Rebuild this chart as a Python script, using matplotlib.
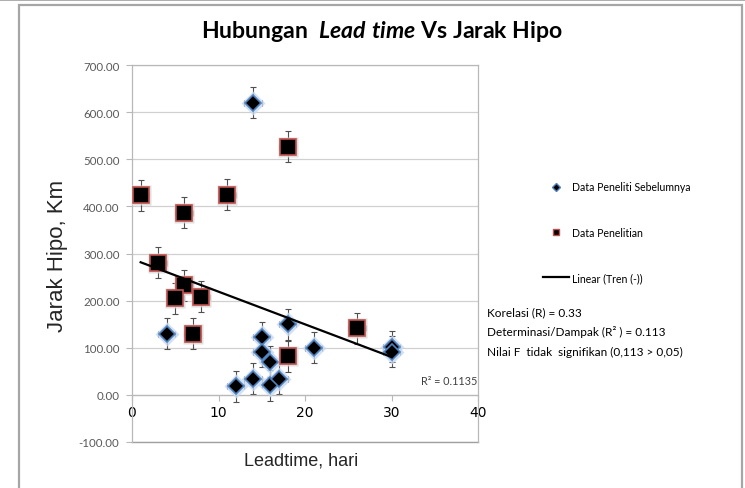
import numpy as np
import matplotlib
matplotlib.use("Agg")
import matplotlib.pyplot as plt
from matplotlib.lines import Line2D
from matplotlib.patches import Rectangle

# ---- data ----
prev_x = [14, 4, 15, 15, 16, 12, 14, 16, 17, 18, 21, 30, 30]
prev_y = [620, 130, 122, 92, 70, 18, 34, 20, 34, 150, 100, 102, 92]
res_x = [1, 3, 6, 11, 18, 6, 5, 8, 7, 18, 26]
res_y = [424, 280, 387, 425, 527, 233, 205, 208, 130, 82, 141]
x_err = 1
y_err = 33
yticks = [-100, 0, 100, 200, 300, 400, 500, 600, 700]
xticks = [0, 10, 20, 30, 40]
stats_lines = ["Korelasi (R) = 0.33",
               "Determinasi/Dampak (R\u00b2 ) = 0.113",
               "Nilai F  tidak  signifikan (0,113 > 0,05)"]
r2_label = "R\u00b2 = 0.1135"

CAL = ["Lato", "DejaVu Sans"]
ARI = ["Liberation Sans", "DejaVu Sans"]

plt.rcParams["mathtext.fontset"] = "custom"
plt.rcParams["mathtext.it"] = "Lato:italic:bold"
plt.rcParams["mathtext.rm"] = "Lato:bold"

W, H = 745, 489
fig = plt.figure(figsize=(W / 100, H / 100), dpi=100)

# outer chart frame
fig.add_artist(Rectangle((19 / W, -0.05), (742 - 19) / W, 1 - 6 / H + 0.05,
                         transform=fig.transFigure, fill=False,
                         edgecolor="#a6a6a6", linewidth=1.6))
fig.add_artist(Line2D([0, 1], [1 - 0.8 / H, 1 - 0.8 / H], transform=fig.transFigure,
                      color="#a0a0a0", linewidth=1.2))

L, R, T, B = 132, 478, 66, 443
ax = fig.add_axes([L / W, 1 - B / H, (R - L) / W, (B - T) / H])
ax.set_xlim(0, 40)
ax.set_ylim(-100, 700)

grid_c = "#d0d0d0"
ax.set_yticks(yticks)
ax.set_yticklabels([f"{v:.2f}" for v in yticks], fontfamily=CAL, fontsize=8.3, color="#595959")
ax.set_xticks(xticks)
ax.set_xticklabels([str(v) for v in xticks], fontfamily=CAL, fontsize=9, color="#595959")
ax.yaxis.grid(True, color=grid_c, linewidth=0.9)
ax.set_axisbelow(True)
ax.spines["bottom"].set_position(("data", 0))
for s in ["left", "bottom", "top", "right"]:
    ax.spines[s].set_color("#b8b8b8")
    ax.spines[s].set_linewidth(0.9)
ax.axhline(-100, color="#a0a0a0", linewidth=1.0, clip_on=False)
ax.tick_params(axis="y", direction="out", length=4, color="#b8b8b8", pad=5)
ax.tick_params(axis="x", direction="out", length=4, color="#b8b8b8", pad=3)

# error bars
ax.errorbar(prev_x, prev_y, xerr=x_err, yerr=y_err, fmt="none", ecolor="#505050",
            elinewidth=0.8, capsize=2.5, capthick=0.8, zorder=2)
ax.errorbar(res_x, res_y, xerr=x_err, yerr=y_err, fmt="none", ecolor="#505050",
            elinewidth=0.8, capsize=2.5, capthick=0.8, zorder=2)

# glow
ax.plot(prev_x, prev_y, "D", ms=12, color="#c6d9f1", alpha=0.8, mec="none", zorder=3)
ax.plot(res_x, res_y, "s", ms=14.5, color="#d8d8d8", alpha=0.8, mec="none", zorder=3)
# markers
ax.plot(prev_x, prev_y, "D", ms=8.5, color="black", mec="#4f81bd", mew=1.2, zorder=4,
        linestyle="none", label="Data Peneliti Sebelumnya")
ax.plot(res_x, res_y, "s", ms=11.5, color="black", mec="#c0504d", mew=1.2, zorder=4,
        linestyle="none", label="Data Penelitian")

# linear trend over all data
all_x = np.array(prev_x + res_x, dtype=float)
all_y = np.array(prev_y + res_y, dtype=float)
m, c = np.polyfit(all_x, all_y, 1)
tx = np.array([all_x.min(), all_x.max()])
ax.plot(tx, m * tx + c, color="black", linewidth=1.6, zorder=5, label="Linear (Tren (-))")

ax.text(33.4, 31, r2_label, fontfamily=CAL, fontsize=7.8, color="#404040",
        ha="left", va="center")

handles, labels = ax.get_legend_handles_labels()
leg_handles = [Line2D([], [], marker="D", ms=4, color="black", mec="#4f81bd", ls="none"),
               Line2D([], [], marker="s", ms=5, color="black", mec="#c0504d", ls="none"),
               Line2D([], [], color="black", lw=1.6)]
fig.legend(leg_handles, labels, loc="upper left", bbox_to_anchor=(538 / W, 1 - 177 / H),
           frameon=False, prop={"family": CAL, "size": 7.6}, labelspacing=3.25,
           handlelength=2.4, handletextpad=0.3, borderpad=0)

for i, s in enumerate(stats_lines):
    fig.text(487 / W, 1 - (313 + i * 19.5) / H, s, fontfamily=CAL, fontsize=8.5,
             color="black", ha="left", va="center")

# title with italic part
fig.text(382 / W, 1 - 32 / H, r"Hubungan  $Lead\ time$ Vs Jarak Hipo",
         ha="center", va="center", fontsize=16.6, fontweight="bold", fontfamily=CAL)

fig.text(58 / W, 1 - 256 / H, "Jarak Hipo, Km", rotation=90, ha="center", va="center",
         fontfamily=ARI, fontsize=16, color="#262626")
fig.text(301 / W, 1 - 461 / H, "Leadtime, hari", ha="center", va="center",
         fontfamily=ARI, fontsize=13, color="#262626")

fig.savefig("out.png", dpi=100)
